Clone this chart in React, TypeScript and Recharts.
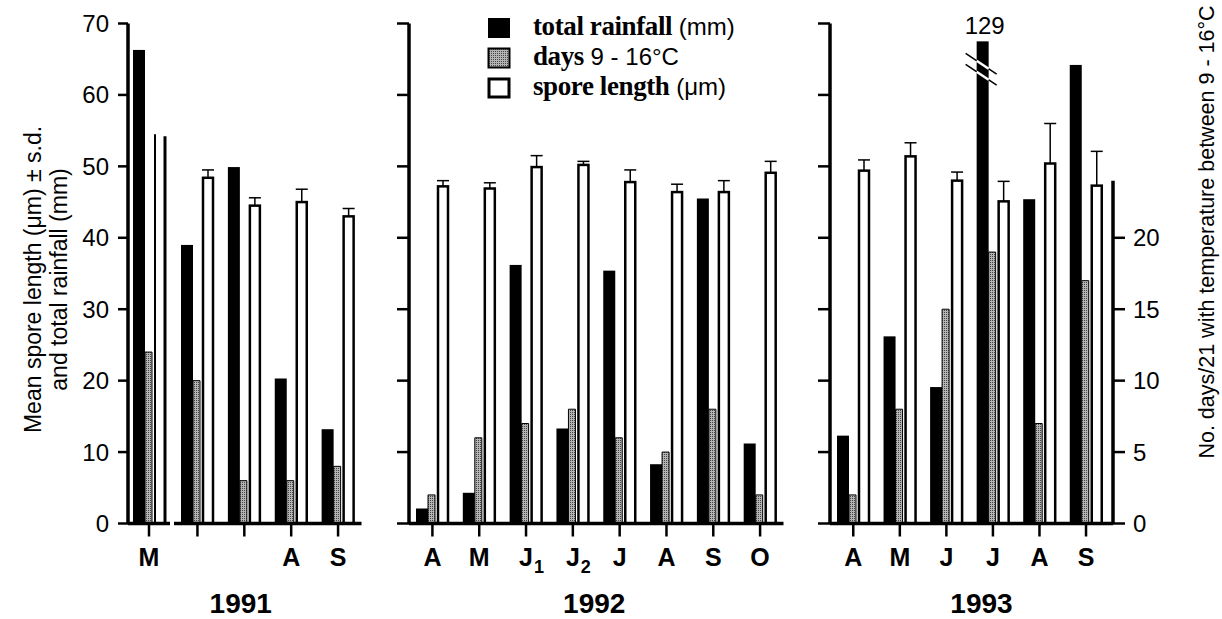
import { BarChart, Bar, XAxis, YAxis, Legend } from 'recharts'

// 1991 (the two J ticks carry no label in the figure)
const months91 = ['M', '', '', 'A', 'S']
const rain91 = [66.3, 39.0, 49.9, 20.3, 13.2]
const days91 = [12, 10, 3, 3, 4]
const spore91 = [54.5, 48.4, 44.5, 45.0, 43.0]
const sd91 = [0, 1.1, 1.1, 1.8, 1.1]

// 1992
const months92 = ['A', 'M', 'J1', 'J2', 'J', 'A', 'S', 'O']
const rain92 = [2.1, 4.3, 36.2, 13.3, 35.4, 8.3, 45.5, 11.2]
const days92 = [2, 6, 7, 8, 6, 5, 8, 2]
const spore92 = [47.2, 46.9, 49.9, 50.2, 47.8, 46.4, 46.4, 49.1]
const sd92 = [0.8, 0.8, 1.6, 0.5, 1.7, 1.1, 1.6, 1.6]

// 1993
const months93 = ['A', 'M', 'J', 'J', 'A', 'S']
const rain93 = [12.3, 26.2, 19.1, 129, 45.4, 64.2]
const days93 = [2, 8, 15, 19, 7, 17]
const spore93 = [49.4, 51.4, 48.0, 45.1, 50.4, 47.3]
const sd93 = [1.5, 1.9, 1.2, 2.8, 5.6, 4.8]

const mmTicks = [0, 10, 20, 30, 40, 50, 60, 70]
const dayTicks = [0, 5, 10, 15, 20]

const MM_MAX = 70
const DAYS_MAX = 35 // right scale: 1 day = 2 mm units
const DAYS_AXIS_TOP = 24
const RAIN_SHOWN_MAX = 67.5 // broken bar is drawn to here

const W = 1222
const H = 619
const TOP = 23.5
const BASE = 523.5
const RIGHT_AXIS_W = 109
const SANS = '"Liberation Sans", Arial, Helvetica, sans-serif'
const SERIF = '"Liberation Serif", "Times New Roman", serif'

const toRows = (months: string[], rain: number[], days: number[], spore: number[], sd: number[]) =>
  months.map((month, i) => ({ month, rain: rain[i], days: days[i], spore: spore[i], sd: sd[i] }))

const rows91 = toRows(months91, rain91, days91, spore91, sd91)
const rows92 = toRows(months92, rain92, days92, spore92, sd92)
const rows93 = toRows(months93, rain93, days93, spore93, sd93)

const rainShown = (d: any) => Math.min(d.rain, RAIN_SHOWN_MAX)

const NoTick = () => <g />

function MonthTick({ x, y, payload }: any) {
  const v = String(payload.value)
  const base = v.replace(/\d+$/, '')
  const sub = v.slice(base.length)
  return (
    <g>
      <text x={x} y={y + 27.5} textAnchor="middle" fontSize={25} fontWeight="bold" fontFamily={SANS} fill="#000">
        {base}
      </text>
      {sub && (
        <text x={x + 8} y={y + 34} fontSize={18} fontWeight="bold" fontFamily={SANS} fill="#000">
          {sub}
        </text>
      )}
    </g>
  )
}

function RainBar(props: any) {
  const { x, y, width, height, payload } = props
  if (!(height > 0)) return null
  const broken = payload.rain > MM_MAX
  const cx = x + width / 2
  const slope = 20 / 30
  const cut = (dy: number) => {
    const x1 = cx - 17
    const y1 = y + dy
    return (
      <g key={dy}>
        <line x1={x1} y1={y1} x2={cx + 14} y2={y1 + 31 * slope} stroke="#000" strokeWidth={1.5} />
        <line x1={x} y1={y1 + (x - x1) * slope} x2={x + width} y2={y1 + (x + width - x1) * slope} stroke="#fff" strokeWidth={2.5} />
      </g>
    )
  }
  return (
    <g>
      <rect x={x} y={y} width={width} height={height} fill="#000" />
      {broken && [cut(12), cut(23)]}
      {broken && (
        <text x={cx + 2} y={y - 7} textAnchor="middle" fontSize={24} fontFamily={SANS} fill="#000">
          {payload.rain}
        </text>
      )}
    </g>
  )
}

// white bar with the upper half of its s.d. bar, scaled from the bar itself
function SporeBar(props: any) {
  const { x, y, width, height, payload } = props
  if (!(height > 0)) return null
  const k = height / payload.spore
  const top = y - payload.sd * k
  const cx = x + width / 2
  return (
    <g>
      <rect x={x} y={y} width={width} height={height} fill="#fff" stroke="#000" strokeWidth={2.5} />
      {payload.sd > 0 && (
        <g stroke="#000" strokeWidth={1.5}>
          <line x1={cx} y1={y} x2={cx} y2={top} />
          <line x1={cx - 6} y1={top} x2={cx + 6} y2={top} />
        </g>
      )}
    </g>
  )
}

// 1991 M: white bar drawn without top and without s.d.
function OpenBar(props: any) {
  const { x, y, width, height } = props
  if (!(height > 0)) return null
  return (
    <g>
      <line x1={x} y1={y} x2={x} y2={y + height} stroke="#000" strokeWidth={2} />
      <line x1={x + width} y1={y + 2} x2={x + width} y2={y + height} stroke="#000" strokeWidth={3} />
    </g>
  )
}

function YearLabel({ viewBox, text, dx }: any) {
  return (
    <text
      x={viewBox.x + viewBox.width / 2 + dx}
      y={viewBox.y + viewBox.height - 6}
      textAnchor="middle"
      fontSize={28}
      fontWeight="bold"
      fontFamily={SANS}
      fill="#000"
    >
      {text}
    </text>
  )
}

const leftTitle = ['Mean spore length (μm) ± s.d.', 'and total rainfall (mm)']

function LeftTitle() {
  const cy = (TOP + BASE) / 2 + 6
  return (
    <g>
      {leftTitle.map((t, i) => {
        const lx = 33 + i * 26
        return (
          <text key={t} x={lx} y={cy} transform={`rotate(-90 ${lx} ${cy})`} textAnchor="middle"
            dominantBaseline="central" fontSize={23} fontFamily={SANS} fill="#000">
            {t}
          </text>
        )
      })}
    </g>
  )
}

function RightTitle({ viewBox }: any) {
  const lx = viewBox.x + 94
  const cy = 232
  return (
    <text x={lx} y={cy} transform={`rotate(-90 ${lx} ${cy})`} textAnchor="middle"
      dominantBaseline="central" fontSize={21.5} fontFamily={SANS} fill="#000">
      No. days/21 with temperature between 9 - 16°C
    </text>
  )
}

function Swatch({ kind }: { kind: string }) {
  return (
    <svg width={24} height={22} style={{ display: 'block', marginRight: 22 }}>
      {kind === 'rain' && <rect x={1} y={1} width={22} height={20} fill="#000" />}
      {kind === 'days' && <rect x={1.5} y={1.5} width={21} height={19} fill="url(#halftone)" stroke="#000" strokeWidth={2} />}
      {kind === 'spore' && <rect x={2} y={2} width={20} height={18} fill="#fff" stroke="#000" strokeWidth={3} />}
    </svg>
  )
}

const legendRows = [
  { kind: 'rain', bold: 'total rainfall', rest: ' (mm)' },
  { kind: 'days', bold: 'days', rest: ' 9 - 16°C' },
  { kind: 'spore', bold: 'spore length', rest: ' (μm)' },
]

function LegendBox() {
  return (
    <div>
      {legendRows.map(r => (
        <div key={r.kind} style={{ display: 'flex', alignItems: 'center', height: 30, whiteSpace: 'nowrap' }}>
          <Swatch kind={r.kind} />
          <span style={{ lineHeight: '30px' }}>
            <span style={{ fontFamily: SERIF, fontWeight: 'bold', fontSize: 27, letterSpacing: -0.4 }}>{r.bold}</span>
            <span style={{ fontFamily: SANS, fontSize: 24 }}>{r.rest}</span>
          </span>
        </div>
      ))}
    </div>
  )
}

type PanelProps = {
  rows: any[]
  left: number
  right: number
  pad?: { left: number; right: number }
  yAxis: 'labels' | 'ticks' | 'none'
  year?: string
  yearDx?: number
  openWhite?: boolean
  legend?: boolean
  daysAxis?: boolean
}

function Panel({ rows, left, right, pad, yAxis, year, yearDx = 0, openWhite, legend, daysAxis }: PanelProps) {
  const yW = yAxis === 'none' ? 0 : yAxis === 'labels' ? left : 20
  const dW = daysAxis ? RIGHT_AXIS_W : 0
  return (
    <div style={{ position: 'absolute', left: 0, top: 0 }}>
      <BarChart
        width={W}
        height={H}
        data={rows}
        barGap={0}
        margin={{ top: TOP, bottom: 0, left: left - yW, right: W - right - dW }}
      >
        <XAxis
          dataKey="month"
          height={H - BASE}
          interval={0}
          padding={pad ?? { left: 0, right: 0 }}
          stroke="#000"
          axisLine={{ stroke: '#000', strokeWidth: 3.5 }}
          tickLine={{ stroke: '#000', strokeWidth: 2.5 }}
          tickSize={13}
          tick={<MonthTick />}
          label={year ? (lp: any) => <YearLabel viewBox={lp.viewBox} text={year} dx={yearDx} /> : undefined}
        />
        <YAxis
          yAxisId="mm"
          hide={yAxis === 'none'}
          width={yW}
          domain={[0, MM_MAX]}
          ticks={mmTicks}
          interval={0}
          stroke="#000"
          axisLine={{ stroke: '#000', strokeWidth: 3.5 }}
          tickLine={{ stroke: '#000', strokeWidth: 2.5 }}
          tickSize={yAxis === 'labels' ? 10 : 12}
          tickMargin={9}
          tick={yAxis === 'labels' ? { fontSize: 24, fill: '#000', fontFamily: SANS } : <NoTick />}
          label={yAxis === 'labels' ? () => <LeftTitle /> : undefined}
        />
        <YAxis
          yAxisId="days"
          orientation="right"
          hide={!daysAxis}
          width={dW}
          domain={[0, DAYS_MAX]}
          ticks={dayTicks}
          interval={0}
          stroke="#000"
          axisLine={false}
          tickLine={{ stroke: '#000', strokeWidth: 2.5 }}
          tickSize={12}
          tickMargin={8}
          tick={{ fontSize: 24, fill: '#000', fontFamily: SANS }}
          label={daysAxis ? (lp: any) => <RightTitle viewBox={lp.viewBox} /> : undefined}
        />
        <Bar yAxisId="mm" dataKey={rainShown} barSize={12} fill="#000" shape={<RainBar />} isAnimationActive={false} />
        <Bar yAxisId="days" dataKey="days" barSize={7} fill="url(#halftone)" stroke="#000" strokeWidth={1} isAnimationActive={false} />
        <Bar yAxisId="mm" dataKey={() => 0} barSize={3} fill="none" isAnimationActive={false} />
        <Bar
          yAxisId="mm"
          dataKey="spore"
          barSize={10}
          fill="#fff"
          shape={openWhite ? <OpenBar /> : <SporeBar />}
          isAnimationActive={false}
        />
        {legend && (
          <Legend
            layout="vertical"
            align="center"
            verticalAlign="middle"
            wrapperStyle={{ left: 487, top: 13, width: 'auto' }}
            content={() => <LegendBox />}
          />
        )}
      </BarChart>
    </div>
  )
}

// line of the right-hand days axis, drawn only up to DAYS_AXIS_TOP
function DaysAxisLine() {
  const pxPerDay = (BASE - TOP) / DAYS_MAX
  return (
    <div style={{ position: 'absolute', left: 0, top: 0 }}>
      <BarChart
        width={W}
        height={H}
        data={rows93}
        margin={{ top: BASE - DAYS_AXIS_TOP * pxPerDay, bottom: H - BASE, left: 1100, right: 0 }}
      >
        <XAxis dataKey="month" hide />
        <YAxis
          orientation="right"
          width={RIGHT_AXIS_W}
          domain={[0, DAYS_AXIS_TOP]}
          stroke="#000"
          axisLine={{ stroke: '#000', strokeWidth: 3.5 }}
          tickLine={false}
          tick={false}
        />
      </BarChart>
    </div>
  )
}

export default function App() {
  return (
    <div style={{ position: 'absolute', left: 0, top: 0, width: W, height: H, background: '#fff', overflow: 'hidden' }}>
      <svg width={0} height={0} style={{ position: 'absolute' }}>
        <defs>
          <pattern id="halftone" width={2} height={2} patternUnits="userSpaceOnUse">
            <rect width={2} height={2} fill="#b4b4b4" />
            <rect width={1} height={1} fill="#444" />
          </pattern>
        </defs>
      </svg>
      <Panel rows={rows91.slice(0, 1)} left={128} right={170} yAxis="labels" openWhite />
      <Panel rows={rows91.slice(1)} left={174} right={361.5} yAxis="none" year="1991" yearDx={-27} />
      <Panel rows={rows92} left={409} right={783.5} yAxis="ticks" year="1992" yearDx={-2} legend />
      <Panel rows={rows93} left={830} right={1113} pad={{ left: 0, right: 3.7 }} yAxis="ticks" year="1993" yearDx={10} daysAxis />
      <DaysAxisLine />
    </div>
  )
}
